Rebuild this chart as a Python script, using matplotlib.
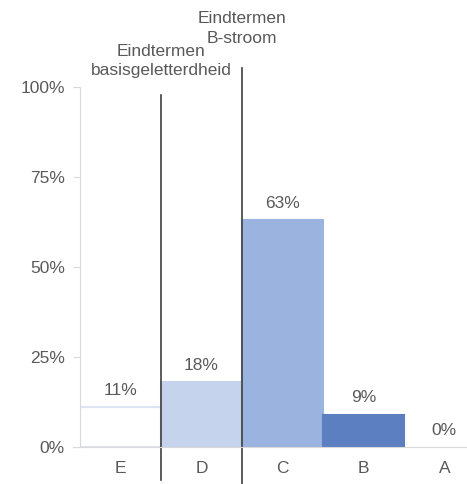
import matplotlib.pyplot as plt
from matplotlib.lines import Line2D

# data
categories = ['E', 'D', 'C', 'B', 'A']
values = [11, 18, 63, 9, 0]
bar_colors = ['#ffffff', '#c5d3ec', '#9bb3df', '#5b7fc0', '#5b7fc0']
edge_colors = ['#dde4f1', '#c5d3ec', '#9bb3df', '#5b7fc0', '#5b7fc0']
yticks = [0, 25, 50, 75, 100]
divider_labels = ['Eindtermen\nbasisgeletterdheid', 'Eindtermen\nB-stroom']

plt.rcParams['font.family'] = ['Liberation Sans', 'DejaVu Sans']
text_color = '#595959'
fs = 12.5

fig = plt.figure(figsize=(4.67, 4.84), dpi=100)
ax = fig.add_axes([80 / 467, 1 - 447 / 484, 1 - 80 / 467, 360 / 484])

x = list(range(len(categories)))
widths = [1.5 if v > 0 else 0 for v in values]
ax.bar(x, values, width=1.0, color=bar_colors, edgecolor=edge_colors, linewidth=widths)

for xi, v in zip(x, values):
    ax.annotate(f'{v}%', (xi, v), xytext=(0, 12), textcoords='offset points',
                ha='center', va='center', fontsize=fs, color=text_color)

ax.set_xlim(-0.5, 4.28)
ax.set_ylim(0, 100)
ax.set_yticks(yticks)
ax.set_yticklabels([f'{t}%' for t in yticks])
ax.set_xticks(x)
ax.set_xticklabels(categories)
ax.tick_params(axis='y', length=5, color='#d9d9d9', labelsize=fs, labelcolor=text_color, pad=6)
ax.tick_params(axis='x', length=0, labelsize=fs, labelcolor=text_color, pad=10)

for s in ['top', 'right']:
    ax.spines[s].set_visible(False)
ax.spines['left'].set_color('#d9d9d9')
ax.spines['bottom'].set_color('#d9d9d9')
ax.spines['bottom'].set_bounds(-0.59, 4.28)

# divider lines between groups, sticking out of the axes
trans = ax.get_xaxis_transform()
ax.add_line(Line2D([0.5, 0.5], [-0.092, 0.978], transform=trans, color='#404040',
                   lw=1.2, clip_on=False))
ax.add_line(Line2D([1.5, 1.5], [-0.103, 1.053], transform=trans, color='#404040',
                   lw=1.2, clip_on=False))
ax.text(0.5, 1.025, divider_labels[0], transform=trans, ha='center', va='bottom',
        fontsize=fs, color=text_color, linespacing=1.35)
ax.text(1.5, 1.115, divider_labels[1], transform=trans, ha='center', va='bottom',
        fontsize=fs, color=text_color, linespacing=1.35)

fig.savefig('out.png', dpi=100)
